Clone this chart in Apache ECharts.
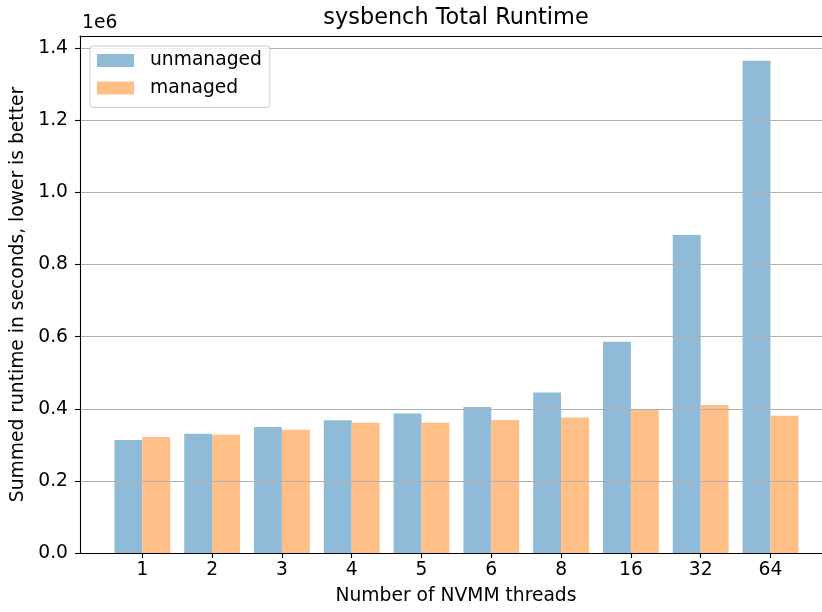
<!DOCTYPE html>
<html>
<head>
<meta charset="utf-8">
<script src="https://cdn.jsdelivr.net/npm/echarts@6/dist/echarts.min.js"></script>
<style>
  html, body { margin: 0; padding: 0; background: #fff; }
  #chart { width: 822px; height: 612px; }
</style>
</head>
<body>
<div id="chart"></div>
<script>
// Thread counts on the x axis
var threads = ['1', '2', '3', '4', '5', '6', '8', '16', '32', '64'];
// Summed runtime (seconds) per configuration
var unmanaged = [313500, 331000, 349500, 368000, 387000, 405000, 445500, 586000, 882000, 1365500];
var managed   = [321800, 328000, 342000, 361400, 361400, 369000, 376000, 397500, 410500, 381000];
// Y tick values (in units of 1e6 seconds)
var yTicks = [0, 0.2, 0.4, 0.6, 0.8, 1.0, 1.2, 1.4];

var FONT = 'DejaVu Sans';
var FS = 18.7;
var idx = threads.map(function (_, i) { return i; });
var yTickVals = yTicks.map(function (t) { return t * 1e6; });

// x range: the plot area runs a little past the right edge of the canvas
var X_MIN = -0.893, X_MAX = 9.738;

var chart = echarts.init(document.getElementById('chart'), null, { renderer: 'canvas' });

chart.setOption({
  animation: false,
  backgroundColor: '#ffffff',
  textStyle: { fontFamily: FONT, color: '#000' },
  title: [
    {
      text: 'sysbench Total Runtime',
      left: 451, top: 2, textAlign: 'center',
      textStyle: { fontFamily: FONT, fontSize: 22.4, fontWeight: 'normal', color: '#000' }
    },
    {
      text: '1e6',
      left: 77, top: 9,
      textStyle: { fontFamily: FONT, fontSize: FS, fontWeight: 'normal', color: '#000' }
    }
  ],
  legend: {
    orient: 'vertical',
    left: 90, top: 46,
    padding: [5, 8, 10, 7],
    itemWidth: 37, itemHeight: 13, itemGap: 8.5,
    icon: 'rect',
    backgroundColor: 'rgba(255,255,255,0.8)',
    borderColor: '#cccccc', borderWidth: 1, borderRadius: 3,
    itemStyle: { borderWidth: 0 },
    textStyle: { fontFamily: FONT, fontSize: FS, color: '#000', lineHeight: 19, padding: [0, 0, 0, 11] },
    z: 10,
    data: ['unmanaged', 'managed']
  },
  grid: { left: 80, top: 36, right: 0, height: 517, containLabel: false },
  xAxis: [
    {
      type: 'value',
      min: X_MIN, max: X_MAX,
      z: 4,
      name: 'Number of NVMM threads',
      nameLocation: 'middle', nameGap: 34,
      nameTextStyle: { fontFamily: FONT, fontSize: FS, color: '#000', padding: [0, 0, 0, 10] },
      axisLine: { show: true, onZero: false, lineStyle: { color: '#000', width: 1.1 } },
      axisTick: { show: true, length: 5, customValues: idx, lineStyle: { color: '#000', width: 1.1 } },
      axisLabel: {
        show: true, margin: 8, customValues: idx,
        fontFamily: FONT, fontSize: FS, color: '#000',
        formatter: function (v) { return threads[Math.round(v)]; }
      },
      splitLine: { show: false }
    },
    {
      type: 'value', position: 'top',
      min: X_MIN, max: X_MAX,
      z: 4,
      axisLine: { show: true, onZero: false, lineStyle: { color: '#000', width: 1.1 } },
      axisTick: { show: false }, axisLabel: { show: false }, splitLine: { show: false }
    }
  ],
  yAxis: {
    type: 'value',
    min: 0, max: 1434000, interval: 200000,
    z: 3,
    name: 'Summed runtime in seconds, lower is better',
    nameLocation: 'middle', nameGap: 49, nameRotate: 90,
    nameTextStyle: { fontFamily: FONT, fontSize: FS, color: '#000' },
    axisLine: { show: true, onZero: false, lineStyle: { color: '#000', width: 1.1 } },
    axisTick: { show: true, length: 5, customValues: yTickVals, lineStyle: { color: '#000', width: 1.1 } },
    axisLabel: {
      show: true, margin: 12,
      customValues: yTickVals,
      fontFamily: FONT, fontSize: FS, color: '#000',
      formatter: function (v) { return (v / 1e6).toFixed(1); }
    },
    splitLine: { show: true, lineStyle: { color: '#b0b0b0', width: 1.1 } }
  },
  series: [
    {
      name: 'unmanaged', type: 'bar',
      barWidth: 27.9, barGap: '0%',
      itemStyle: { color: '#8fbbd9', borderWidth: 0 },
      data: unmanaged.map(function (v, i) { return [i, v]; })
    },
    {
      name: 'managed', type: 'bar',
      barWidth: 27.9, barGap: '0%',
      itemStyle: { color: '#ffbf86', borderWidth: 0 },
      data: managed.map(function (v, i) { return [i, v]; })
    }
  ]
});
</script>
</body>
</html>
